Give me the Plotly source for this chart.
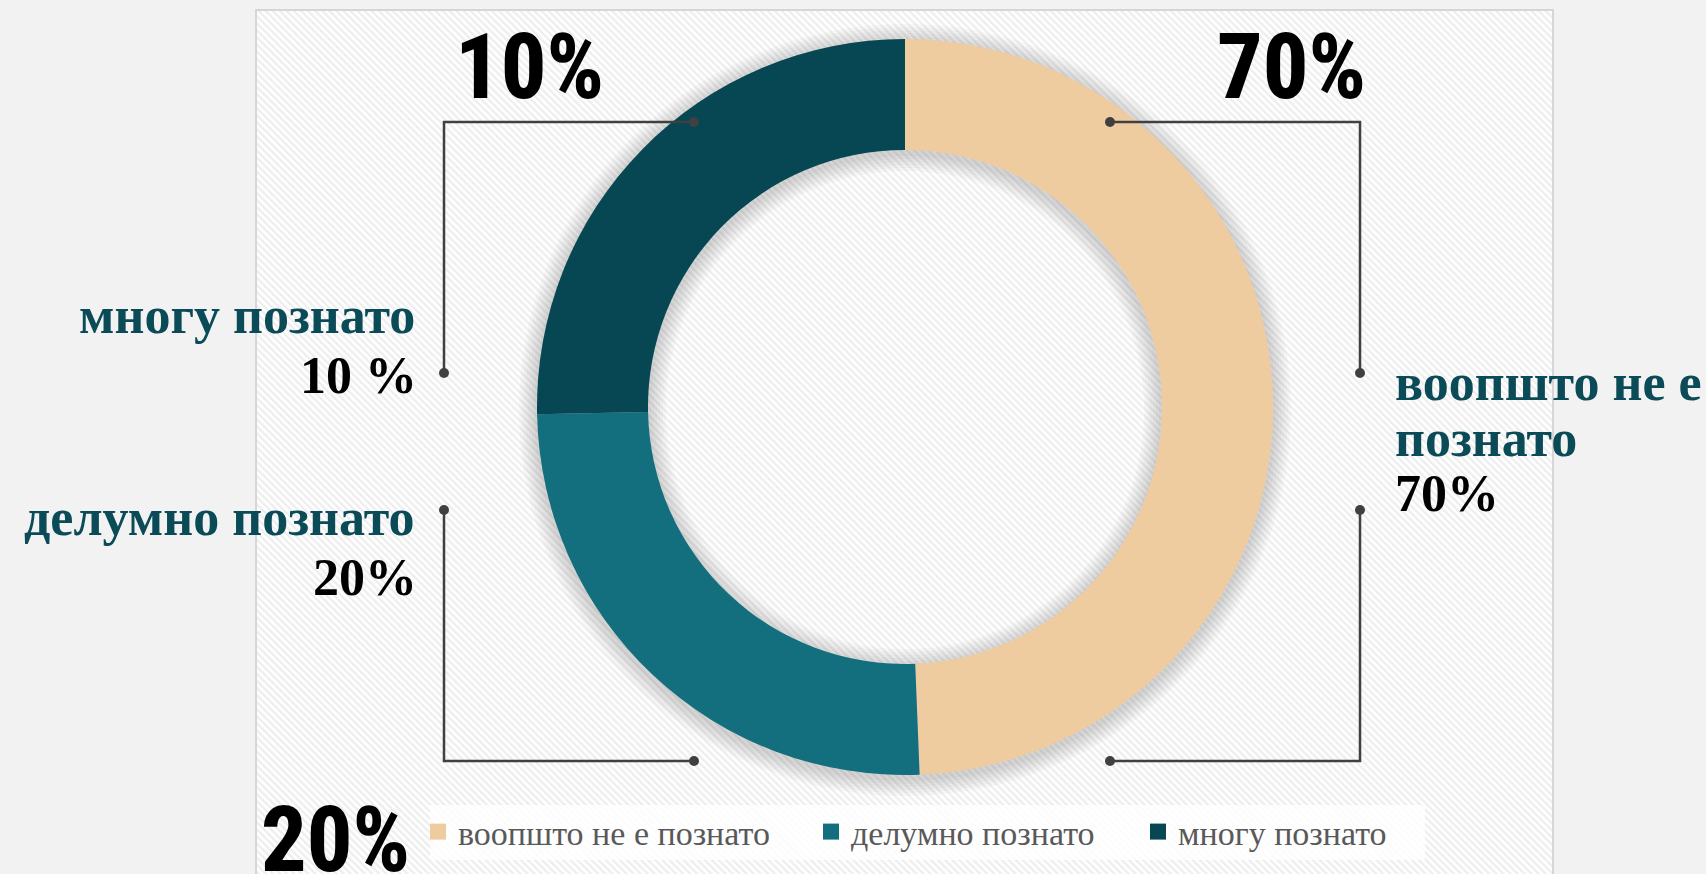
import base64
import plotly.graph_objects as go

# ---- data ----
categories = ["воопшто не е познато", "делумно познато", "многу познато"]
slice_values = [39, 20, 20]          # slice sizes as drawn in the reference
label_pcts = ["70%", "20%", "10 %"]  # percentages printed next to the names
big_pcts = ["70%", "20%", "10%"]     # large percentages at the corners
colors = ["#EFCCA0", "#136E7E", "#074753"]

W, H = 1706, 874


def fx(x):
    return x / W


def fy(y):
    return 1 - y / H


CX, CY, R_OUT, R_IN = 905, 407, 368, 257

fig = go.Figure()

# soft shadow rings behind the donut
for k in range(6, 0, -1):
    ro = R_OUT + 3 * k
    ri = max(R_IN - 3 * k, 1)
    cy = CY + 3
    fig.add_trace(go.Pie(
        values=[1], labels=["shadow"], hole=ri / ro, sort=False,
        marker=dict(colors=["rgba(0,0,0,0.028)"], line=dict(width=0)),
        textinfo="none", hoverinfo="skip", showlegend=False,
        domain=dict(x=[fx(CX - ro), fx(CX + ro)], y=[fy(cy + ro), fy(cy - ro)]),
    ))

fig.add_trace(go.Pie(
    labels=categories, values=slice_values, hole=R_IN / R_OUT,
    sort=False, direction="clockwise", rotation=0,
    marker=dict(colors=colors, line=dict(width=0)),
    textinfo="none", hoverinfo="label+percent", showlegend=False,
    domain=dict(x=[fx(CX - R_OUT), fx(CX + R_OUT)], y=[fy(CY + R_OUT), fy(CY - R_OUT)]),
))

# legend entries (one per category, square swatches)
legend_widths = [348, 282, 240]
for cat, col, lw in zip(categories, colors, legend_widths):
    fig.add_trace(go.Scatter(
        x=[None], y=[None], mode="markers", name=cat,
        marker=dict(symbol="square", size=16, color=col, line=dict(width=0)),
        legendwidth=lw, hoverinfo="skip",
    ))

# ---- background panel with diagonal stripes ----
PX0, PY0, PX1, PY1 = 256, 10, 1553, 880
svg = (
    f"<svg xmlns='http://www.w3.org/2000/svg' width='{PX1 - PX0}' height='{PY1 - PY0}'>"
    "<defs><pattern id='p' width='5' height='5' patternUnits='userSpaceOnUse' "
    "patternTransform='rotate(-45)'>"
    "<rect width='5' height='5' fill='#ffffff'/>"
    "<rect width='2.4' height='5' fill='#eeeeee'/>"
    "</pattern></defs><rect width='100%' height='100%' fill='url(#p)'/></svg>"
)
src = "data:image/svg+xml;base64," + base64.b64encode(svg.encode()).decode()

images = [dict(source=src, xref="paper", yref="paper", x=fx(PX0), y=fy(PY0),
               sizex=(PX1 - PX0) / W, sizey=(PY1 - PY0) / H, sizing="stretch",
               xanchor="left", yanchor="top", layer="below")]

shapes = [
    dict(type="rect", xref="paper", yref="paper", x0=fx(PX0), x1=fx(PX1),
         y0=fy(PY1), y1=fy(PY0), line=dict(color="#d6d6d6", width=2),
         fillcolor="rgba(0,0,0,0)", layer="below"),
    # legend backdrop
    dict(type="rect", xref="paper", yref="paper", x0=fx(430), x1=fx(1425),
         y0=fy(860), y1=fy(805), line=dict(width=0),
         fillcolor="rgba(255,255,255,0.8)", layer="below"),
]

# ---- leader lines ----
LINE_C = "#404040"
leaders = [
    [(694, 122), (444, 122), (444, 373)],
    [(1110, 122), (1360, 122), (1360, 373)],
    [(444, 510), (444, 761), (694, 761)],
    [(1360, 510), (1360, 761), (1110, 761)],
]
for pts in leaders:
    path = "M " + " L ".join(f"{fx(x):.5f},{fy(y):.5f}" for x, y in pts)
    shapes.append(dict(type="path", xref="paper", yref="paper", path=path,
                       line=dict(color=LINE_C, width=2.5), layer="above"))
    for (x, y) in (pts[0], pts[-1]):
        r = 5
        shapes.append(dict(type="circle", xref="paper", yref="paper",
                           x0=fx(x - r), x1=fx(x + r), y0=fy(y + r), y1=fy(y - r),
                           fillcolor=LINE_C, line=dict(width=0), layer="above"))

# ---- text ----
SERIF = "Liberation Serif, DejaVu Serif, serif"
NAME_FONT = dict(family=SERIF, size=52, color="#0B4B57", weight="bold")
PCT_FONT = dict(family=SERIF, size=52, color="#000000", weight="bold")
BIG_FONT = dict(
    family="Liberation Sans Narrow, Roboto Condensed, DejaVu Sans Condensed, "
           "Open Sans Condensed, Open Sans, sans-serif",
    size=90, color="#000000", weight=800)

annotations = []


def ann(text, x, y, font, xanchor, condensed=False):
    if condensed:
        text = f"<span style='font-stretch:condensed'>{text}</span>"
    annotations.append(dict(text=text, x=fx(x), y=fy(y), xref="paper", yref="paper",
                            showarrow=False, xanchor=xanchor, yanchor="middle",
                            font=font))


# left labels
ann(categories[2], 417, 316, NAME_FONT, "right")
ann(label_pcts[2], 419, 376, PCT_FONT, "right")
ann(categories[1], 417, 517, NAME_FONT, "right")
ann(label_pcts[1], 419, 577, PCT_FONT, "right")
# right label (wrapped)
words = categories[0].split(" ")
ann(" ".join(words[:3]), 1393, 382, NAME_FONT, "left")
ann(" ".join(words[3:]), 1393, 438, NAME_FONT, "left")
ann(label_pcts[0], 1393, 493, PCT_FONT, "left")
# big percentages
ann(big_pcts[2], 529, 67, BIG_FONT, "center", condensed=True)
ann(big_pcts[0], 1291, 67, BIG_FONT, "center", condensed=True)
ann(big_pcts[1], 335, 840, BIG_FONT, "center", condensed=True)

fig.update_layout(
    width=W, height=H,
    margin=dict(l=0, r=0, t=0, b=0),
    paper_bgcolor="#F2F2F2",
    plot_bgcolor="rgba(0,0,0,0)",
    xaxis=dict(visible=False, fixedrange=True),
    yaxis=dict(visible=False, fixedrange=True),
    images=images,
    shapes=shapes,
    annotations=annotations,
    showlegend=True,
    legend=dict(
        orientation="h", x=fx(418), y=fy(832), xanchor="left", yanchor="middle",
        font=dict(family=SERIF, size=34, color="#595959"),
        bgcolor="rgba(0,0,0,0)", borderwidth=0, traceorder="normal",
    ),
)

fig.write_html(
    "out.html",
    config={"displayModeBar": False},
    post_script="document.body.style.margin='0';"
                "document.body.style.background='#F2F2F2';",
)
